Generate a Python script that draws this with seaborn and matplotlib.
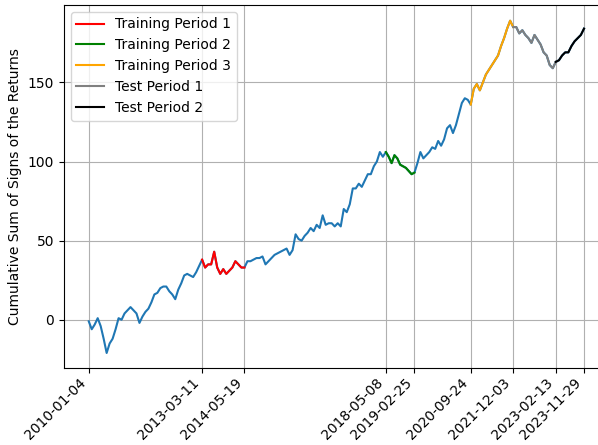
import numpy as np
import pandas as pd
import seaborn as sns
import matplotlib.pyplot as plt

# Period boundaries (also used as x ticks)
boundary_dates = ["2010-01-04", "2013-03-11", "2014-05-19", "2018-05-08", "2019-02-25",
                  "2020-09-24", "2021-12-03", "2023-02-13", "2023-11-29"]

# Cumulative sum of signs (roughly monthly samples per segment)
before_train1 = [-1, -6, -3, 1, -4, -12, -21, -15, -12, -6, 1, 0, 4, 6, 8, 6, 4, -2, 2, 5,
                 7, 11, 16, 17, 20, 21, 21, 18, 16, 13, 19, 23, 28, 29, 28, 27, 30, 34, 38]
train1 = [38, 33, 35, 35, 43, 33, 29, 32, 29, 31, 33, 37, 35, 33, 33]
between_1_2 = [33, 37, 37, 38, 39, 39, 40, 35, 37, 39, 41, 42, 43, 44, 45, 41, 44, 54, 51, 50,
               53, 55, 58, 56, 60, 58, 66, 60, 61, 61, 59, 61, 59, 70, 68, 73, 83, 83, 86, 84,
               88, 92, 92, 97, 100, 106, 103, 106]
train2 = [106, 103, 99, 104, 102, 98, 97, 96, 94, 92, 93]
between_2_3 = [93, 99, 106, 102, 104, 106, 109, 108, 113, 110, 114, 121, 123, 118, 123, 130,
               137, 140, 139, 136]
train3 = [136, 146, 149, 145, 150, 155, 158, 161, 164, 167, 173, 178, 184, 189, 185]
test1 = [185, 185, 181, 183, 180, 178, 175, 180, 177, 174, 169, 167, 161, 159, 163]
test2 = [163, 164, 167, 169, 169, 173, 176, 178, 180, 184]

segment_values = [before_train1, train1, between_1_2, train2, between_2_3, train3, test1, test2]
segment_labels = [None, "Training Period 1", None, "Training Period 2", None,
                  "Training Period 3", "Test Period 1", "Test Period 2"]
segment_colors = [None, "red", None, "green", None, "orange", "grey", "black"]

# Build one frame per segment between its boundary dates
segments = []
for i, vals in enumerate(segment_values):
    dates = pd.date_range(boundary_dates[i], boundary_dates[i + 1], periods=len(vals))
    segments.append(pd.DataFrame({"date": dates, "cumsum": vals}))

full = pd.concat(segments, ignore_index=True).drop_duplicates("date")

fig = plt.figure(figsize=(5.98, 4.45), dpi=100)
ax = fig.add_axes([0.107, 0.173, 0.911, 0.816])

# Whole series first, then highlight the periods on top
sns.lineplot(data=full, x="date", y="cumsum", color="C0", ax=ax, legend=False)
for df, lab, col in zip(segments, segment_labels, segment_colors):
    if lab is None:
        continue
    sns.lineplot(data=df, x="date", y="cumsum", color=col, label=lab, ax=ax)

ticks = pd.to_datetime(boundary_dates)
ax.set_xticks(ticks)
ax.set_xticklabels(boundary_dates, rotation=45, ha="right")
ax.tick_params(axis="x", pad=2)
ax.set_ylim(-30.5, 199)
ax.grid(True)
ax.set_xlabel("")
ax.set_ylabel("Cumulative Sum of Signs of the Returns")
ax.legend(loc="upper left")

fig.savefig("out.png", dpi=100)
